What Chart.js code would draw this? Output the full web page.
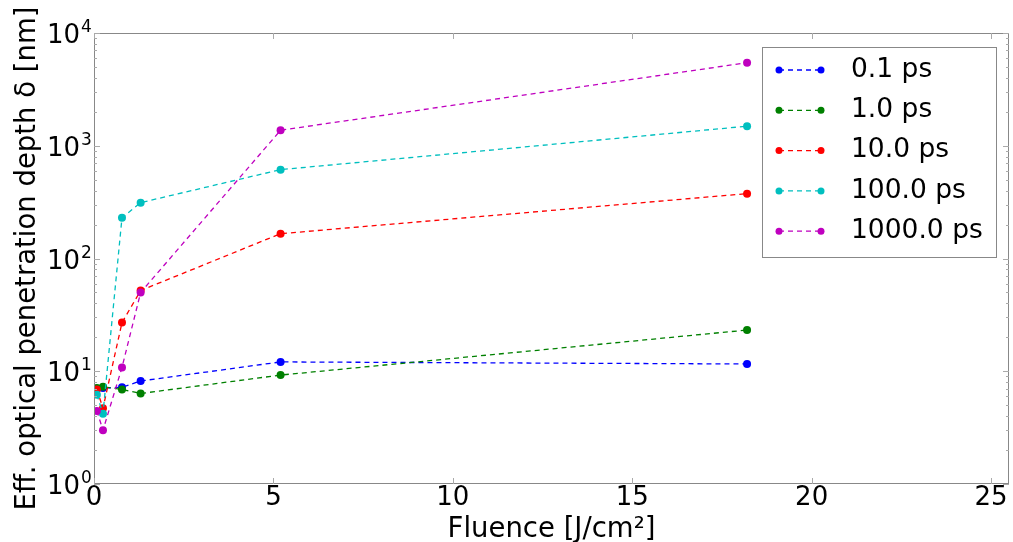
<!DOCTYPE html>
<html>
<head>
<meta charset="utf-8">
<script src="https://cdn.jsdelivr.net/npm/chart.js@4.4.1/dist/chart.umd.min.js"></script>
<style>
  body { margin: 0; background: #fff; }
  canvas { display: block; }
</style>
</head>
<body>
<canvas id="myChart" width="1013" height="542"></canvas>
<script>
// fluence values [J/cm²]
const fluence = [0.08, 0.25, 0.78, 1.3, 5.2, 18.2];

// penetration depth [nm] per pulse duration
const depth_01ps = [7.0, 7.1, 7.2, 8.2, 12.1, 11.6];
const depth_1ps = [7.1, 7.3, 6.9, 6.35, 9.25, 23.2];
const depth_10ps = [6.9, 4.7, 27, 52, 166, 376];
const depth_100ps = [6.2, 4.2, 230, 313, 614, 1490];
const depth_1000ps = [4.45, 3.0, 10.8, 50, 1373, 5450];

const seriesLabels = ['0.1 ps', '1.0 ps', '10.0 ps', '100.0 ps', '1000.0 ps'];
const seriesData = [depth_01ps, depth_1ps, depth_10ps, depth_100ps, depth_1000ps];
const seriesColors = ['#0000ff', '#008000', '#ff0000', '#00bfbf', '#bf00bf'];

const xTicks = [0, 5, 10, 15, 20, 25];
const yDecades = [0, 1, 2, 3, 4];

const FONT = 'DejaVu Sans';

const datasets = seriesData.map((vals, i) => ({
    label: seriesLabels[i],
    data: vals.map((v, j) => ({x: fluence[j], y: v})),
    borderColor: seriesColors[i],
    backgroundColor: seriesColors[i],
    pointBackgroundColor: seriesColors[i],
    pointBorderColor: seriesColors[i],
    pointRadius: 4,
    pointBorderWidth: 0,
    borderWidth: 1.3,
    borderDash: [5, 4],
    tension: 0,
    order: seriesData.length - i
}));

// frame, inward ticks, y labels and legend (matplotlib look)
const framePlugin = {
    id: 'frame',
    afterDraw(chart) {
        const ctx = chart.ctx;
        const a = chart.chartArea;
        const xs = chart.scales.x, ys = chart.scales.y;
        ctx.save();
        ctx.strokeStyle = '#888';
        ctx.lineWidth = 1;
        ctx.strokeRect(a.left + 0.5, a.top + 0.5, a.right - a.left - 1, a.bottom - a.top - 1);

        ctx.strokeStyle = '#aaa';
        ctx.beginPath();
        xTicks.forEach(t => {
            const px = Math.round(xs.getPixelForValue(t)) + 0.5;
            ctx.moveTo(px, a.bottom); ctx.lineTo(px, a.bottom - 6);
            ctx.moveTo(px, a.top); ctx.lineTo(px, a.top + 6);
        });
        yDecades.forEach(d => {
            for (let m = 1; m <= 9; m++) {
                const v = m * Math.pow(10, d);
                if (v > 10000) break;
                const py = Math.round(ys.getPixelForValue(v)) + 0.5;
                const len = m === 1 ? 6 : 3;
                ctx.moveTo(a.left, py); ctx.lineTo(a.left + len, py);
                ctx.moveTo(a.right, py); ctx.lineTo(a.right - len, py);
            }
        });
        ctx.stroke();

        // y tick labels 10^n
        ctx.fillStyle = '#000';
        ctx.textBaseline = 'alphabetic';
        yDecades.forEach(d => {
            const py = ys.getPixelForValue(Math.pow(10, d));
            ctx.font = '26px "' + FONT + '"';
            ctx.textAlign = 'right';
            ctx.fillText('10', a.left - 14, py + 10);
            ctx.font = '17px "' + FONT + '"';
            ctx.textAlign = 'left';
            ctx.fillText(String(d), a.left - 13, py - 1);
        });

        // legend box
        const bw = 234, bh = 210;
        const bx = a.right - 13 - bw, by = a.top + 14;
        ctx.fillStyle = '#fff';
        ctx.fillRect(bx, by, bw, bh);
        ctx.strokeStyle = '#888';
        ctx.strokeRect(bx + 0.5, by + 0.5, bw, bh);
        chart.data.datasets.forEach((ds, i) => {
            const ly = by + 23 + i * 40.3;
            ctx.strokeStyle = ds.borderColor;
            ctx.lineWidth = 1.3;
            ctx.setLineDash([5, 4]);
            ctx.beginPath();
            ctx.moveTo(bx + 17, ly); ctx.lineTo(bx + 59, ly);
            ctx.stroke();
            ctx.setLineDash([]);
            ctx.fillStyle = ds.borderColor;
            [bx + 17, bx + 59].forEach(px => {
                ctx.beginPath();
                ctx.arc(px, ly, 3.5, 0, Math.PI * 2);
                ctx.fill();
            });
            ctx.fillStyle = '#000';
            ctx.font = '26.5px "' + FONT + '"';
            ctx.textAlign = 'left';
            ctx.textBaseline = 'middle';
            ctx.fillText(ds.label, bx + 89, ly);
        });
        ctx.restore();
    }
};

const config = {
    type: 'line',
    data: { datasets: datasets },
    options: {
        responsive: false,
        animation: false,
        devicePixelRatio: 1,
        layout: { padding: { left: 0, right: 3, top: 33, bottom: 0 } },
        plugins: {
            legend: { display: false },
            tooltip: { enabled: false }
        },
        scales: {
            x: {
                type: 'linear',
                min: 0,
                max: 25.5,
                grid: { display: false, drawTicks: false, tickLength: 0 },
                border: { display: false },
                ticks: {
                    stepSize: 5,
                    includeBounds: false,
                    padding: -1,
                    color: '#000',
                    font: { family: FONT, size: 26 }
                },
                title: {
                    display: true,
                    text: 'Fluence [J/cm²]',
                    color: '#000',
                    padding: 0,
                    font: { family: FONT, size: 27.5, lineHeight: 0.9 }
                },
                afterFit: s => { s.height = 58; }
            },
            y: {
                type: 'logarithmic',
                min: 1,
                max: 10000,
                grid: { display: false },
                border: { display: false },
                ticks: { display: false },
                title: {
                    display: true,
                    text: 'Eff. optical penetration depth δ [nm]',
                    color: '#000',
                    padding: { top: 13, bottom: 0 },
                    font: { family: FONT, size: 27.5, lineHeight: 1.05 }
                },
                afterFit: s => { s.width = 94; }
            }
        }
    },
    plugins: [framePlugin]
};

new Chart(document.getElementById('myChart').getContext('2d'), config);
</script>
</body>
</html>
